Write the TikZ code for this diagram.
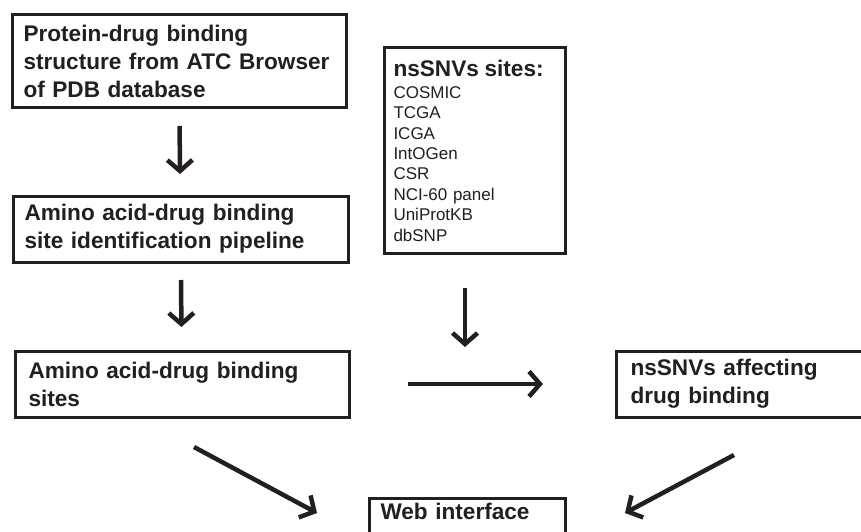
\documentclass[tikz,border=0pt]{standalone}
\usepackage{fontspec}
\setmainfont{Liberation Sans}
\usetikzlibrary{arrows.meta}
\definecolor{ink}{HTML}{231F20}

\begin{document}
\begin{tikzpicture}[x=1pt,y=-1pt,
  box/.style={draw=ink, line width=3pt, anchor=north west, align=left, text=ink, inner xsep=11.5pt, inner ysep=0pt, font=\bfseries\fontsize{22.6}{28}\selectfont},
  flow/.style={ink, line width=4.5pt, -{Straight Barb[length=11pt,width=25pt]}}]
\useasboundingbox (0,0) rectangle (861,532);
\fill[white] (0,0) rectangle (861,532);

\node[box, text width=311pt, minimum height=93pt] (pdb) at (10.5,13.5) {Protein-drug binding\\\mbox{structure from ATC Browser}\\of PDB database};
\node[box, text width=312pt, minimum height=66pt] (pipe) at (11.5,194.5) {Amino acid-drug binding\\site identification pipeline};
\node[box, text width=307pt, minimum height=66pt, inner xsep=13.5pt] (sites) at (13.5,349.5) {Amino acid-drug binding\\sites};
\node[box, text width=236pt, minimum height=66pt, inner xsep=14.5pt] (affect) at (614.5,349.5) {nsSNVs affecting\\drug binding};
\node[box, text width=162pt, minimum height=205pt, inner xsep=9.5pt, font=\fontsize{17}{20.4}\selectfont] (snv) at (382.5,46.5)
  {{\bfseries\fontsize{22.6}{20.4}\selectfont nsSNVs sites:}\\[1.6pt]COSMIC\\TCGA\\ICGA\\IntOGen\\CSR\\NCI-60 panel\\UniProtKB\\dbSNP};
\node[box, text width=173pt, inner ysep=5.5pt, text depth=30pt] (web) at (367.5,496.5) {Web interface};

\coordinate (join) at (465,347);
\coordinate (fromL) at (194,447);
\coordinate (toL) at (317,513);
\coordinate (fromR) at (734,455);
\coordinate (toR) at (625,513);

\draw[flow, shorten <=16.5pt, shorten >=20.5pt] (pdb) -- (pipe);
\draw[flow, shorten <=16.5pt, shorten >=22.5pt] (pipe) -- (sites);
\draw[flow, shorten <=33.5pt] (join |- snv.south) -- (join);
\draw[flow, shorten <=57.5pt, shorten >=71.5pt] (sites.east) -- (affect.west);
\draw[flow] (fromL) -- (toL);
\draw[flow] (fromR) -- (toR);

\end{tikzpicture}
\end{document}
